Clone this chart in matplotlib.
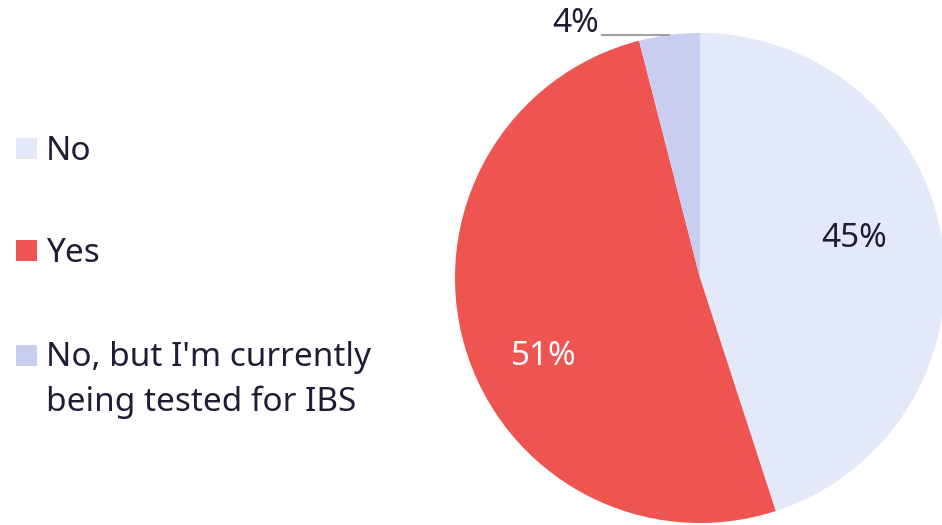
import numpy as np
import matplotlib.pyplot as plt
from matplotlib.patches import Rectangle

# data
labels = ['No', 'Yes', "No, but I'm currently\nbeing tested for IBS"]
values = [45, 51, 4]
colors = ['#E4E9FA', '#EE5450', '#C9CEF1']
pct_colors = ['#1F1C35', '#FFFFFF', '#1F1C35']

plt.rcParams['font.family'] = ['Noto Sans', 'DejaVu Sans']
txt_col = '#1F1C35'
fs = 24

fig = plt.figure(figsize=(9.42, 5.25), dpi=100)
ax = fig.add_axes([0, 0, 1, 1])

H = 525
cx, cy, r = 700, H - 278, 245

wedges, _ = ax.pie(values, colors=colors, startangle=90, counterclock=False,
                   center=(cx, cy), radius=r, wedgeprops=dict(linewidth=0))

# where the inside labels sit, as (distance from centre, angle in degrees)
label_pos = [(0.65, 15), (0.71, 206), None]

total = sum(values)
for i, w in enumerate(wedges):
    pct = f'{round(values[i] / total * 100)}%'
    if label_pos[i] is not None:
        d, a = label_pos[i]
        x = cx + d * r * np.cos(np.deg2rad(a))
        y = cy + d * r * np.sin(np.deg2rad(a))
        ax.text(x, y - 2, pct, ha='center', va='center', fontsize=fs,
                fontweight='light', color=pct_colors[i])
    else:
        mid = np.deg2rad((w.theta1 + w.theta2) / 2)
        ex = cx + r * np.cos(mid)
        ey = cy + r * np.sin(mid)
        ax.plot([ex - 67, ex], [ey, ey], color='#A0A0A0', lw=1.5)
        ax.text(ex - 70, ey + 11, pct, ha='right', va='center', fontsize=fs,
                fontweight='light', color=pct_colors[i])

# legend drawn by hand
leg_y = [148, 250, 355]
for lab, col, ly in zip(labels, colors, leg_y):
    ax.add_patch(Rectangle((16, H - ly - 10.5), 21, 21, color=col, lw=0))
    for k, line in enumerate(lab.split('\n')):
        ax.text(46, H - ly - 3 - 44 * k, line, ha='left', va='center',
                fontsize=fs, fontweight='light', color=txt_col)

ax.set_xlim(0, 942)
ax.set_ylim(0, H)
ax.set_aspect('equal')
ax.axis('off')

fig.savefig('out.png', dpi=100, facecolor='white')
